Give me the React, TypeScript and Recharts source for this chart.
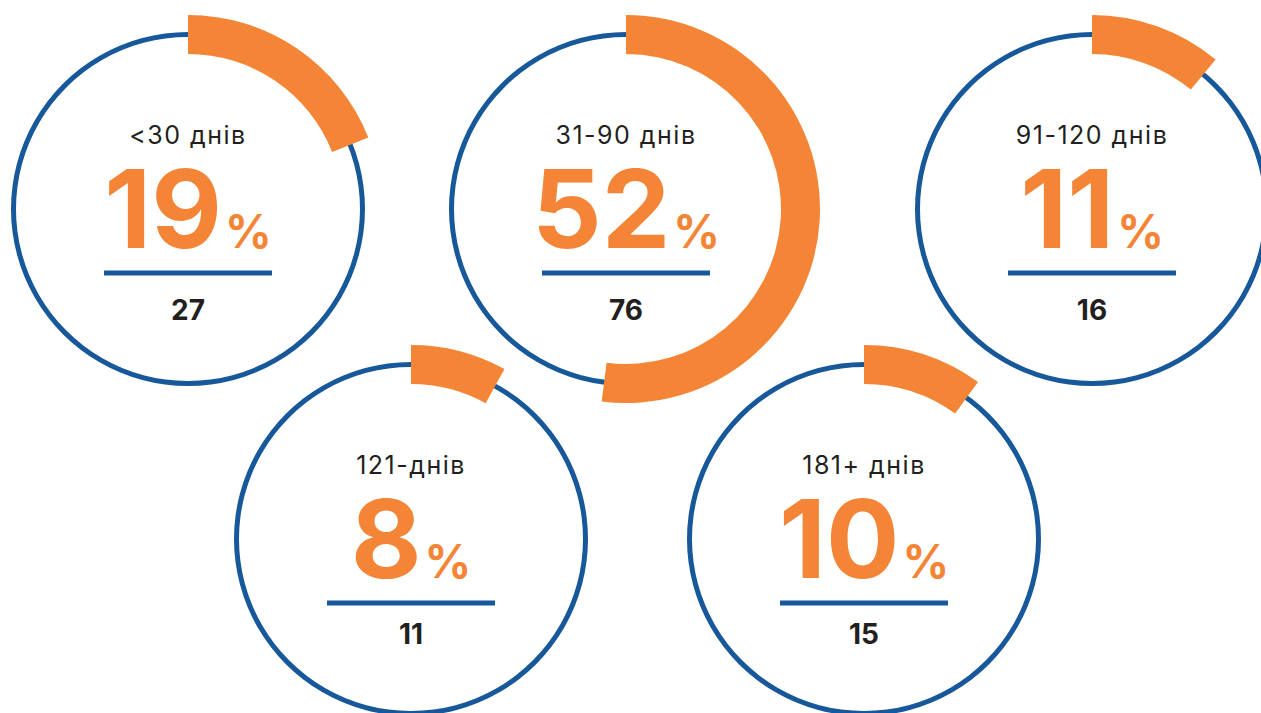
import React from 'react';
import { PieChart, Pie, Cell, Label } from 'recharts';

// ---- data ----
const categories: string[] = ['<30 днів', '31-90 днів', '91-120 днів', '121-днів', '181+ днів'];
const percents: number[] = [19, 52, 11, 8, 10];
const counts: number[] = [27, 76, 16, 11, 15];

// ---- layout (positions of each gauge) ----
const centersX: number[] = [188, 626, 1092, 411, 864];
const centersY: number[] = [209, 209, 209, 539, 539];
const countOffsets: number[] = [111, 111, 111, 105, 105];

const BLUE = '#17589b';
const ORANGE = '#f48536';
const TEXT = '#231f20';
const FONT = 'Inter, Roboto, "Noto Sans", sans-serif';

const W = 1261;
const H = 713;

function makeCenter(i: number) {
  return (props: any) => {
    const vb = (props && props.viewBox) || {};
    const cx = typeof vb.cx === 'number' ? vb.cx : centersX[i];
    const cy = typeof vb.cy === 'number' ? vb.cy : centersY[i];
    return (
      <g>
        <text x={cx} y={cy - 65} textAnchor="middle" fontSize={25} letterSpacing={1.5} fill={TEXT} fontFamily={FONT}>
          {categories[i]}
        </text>
        <text x={cx} y={cy + 39} textAnchor="middle" fill={ORANGE} fontFamily={FONT} fontWeight={700}>
          <tspan fontSize={109}>{percents[i]}</tspan>
          <tspan fontSize={46} dx={3}>%</tspan>
        </text>
        <line x1={cx - 84} x2={cx + 84} y1={cy + 64} y2={cy + 64} stroke={BLUE} strokeWidth={5} />
        <text x={cx} y={cy + countOffsets[i]} textAnchor="middle" fontSize={28} fontWeight={700} fill={TEXT} fontFamily={FONT}>
          {counts[i]}
        </text>
      </g>
    );
  };
}

export default function App() {
  return (
    <div style={{ position: 'absolute', left: 0, top: 0, width: W, height: H, background: '#fff' }}>
      <PieChart width={W} height={H} margin={{ top: 0, right: 0, bottom: 0, left: 0 }}>
        {percents.map((p, i) => (
          <Pie
            key={`ring-${i}`}
            data={[{ name: categories[i], value: 100 }]}
            dataKey="value"
            cx={centersX[i]}
            cy={centersY[i]}
            innerRadius={172}
            outerRadius={177}
            startAngle={90}
            endAngle={-270}
            stroke="none"
            fill={BLUE}
            isAnimationActive={false}
          />
        ))}
        {percents.map((p, i) => (
          <Pie
            key={`arc-${i}`}
            data={[
              { name: categories[i], value: p },
              { name: 'rest', value: 100 - p },
            ]}
            dataKey="value"
            cx={centersX[i]}
            cy={centersY[i]}
            innerRadius={155}
            outerRadius={194}
            startAngle={90}
            endAngle={-270}
            stroke="none"
            isAnimationActive={false}
          >
            <Cell fill={ORANGE} />
            <Cell fill="transparent" fillOpacity={0} />
            <Label position="center" content={makeCenter(i)} />
          </Pie>
        ))}
      </PieChart>
    </div>
  );
}
